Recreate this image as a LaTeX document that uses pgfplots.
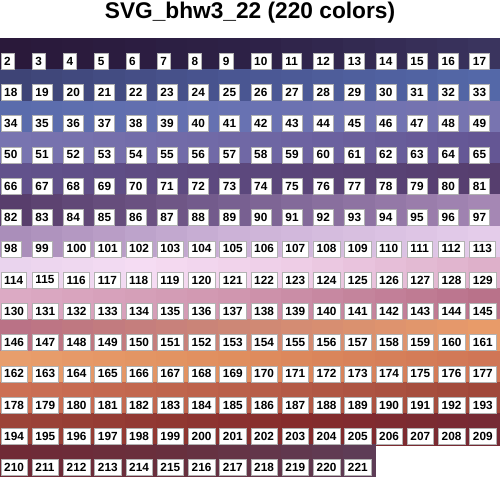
\documentclass[border=0pt]{standalone}
\usepackage{pgfplots}
\usepackage{pgfplotstable}
\usepackage{fontspec}
\setmainfont{Liberation Sans}
\pgfplotsset{compat=1.18}
\pgfplotstableread[row sep=\\]{
c r idx\\
0 0 2\\ 1 0 3\\ 2 0 4\\ 3 0 5\\ 4 0 6\\ 5 0 7\\ 6 0 8\\ 7 0 9\\ 8 0 10\\ 9 0 11\\ 10 0 12\\ 11 0 13\\ 12 0 14\\ 13 0 15\\ 14 0 16\\ 15 0 17\\
0 1 18\\ 1 1 19\\ 2 1 20\\ 3 1 21\\ 4 1 22\\ 5 1 23\\ 6 1 24\\ 7 1 25\\ 8 1 26\\ 9 1 27\\ 10 1 28\\ 11 1 29\\ 12 1 30\\ 13 1 31\\ 14 1 32\\ 15 1 33\\
0 2 34\\ 1 2 35\\ 2 2 36\\ 3 2 37\\ 4 2 38\\ 5 2 39\\ 6 2 40\\ 7 2 41\\ 8 2 42\\ 9 2 43\\ 10 2 44\\ 11 2 45\\ 12 2 46\\ 13 2 47\\ 14 2 48\\ 15 2 49\\
0 3 50\\ 1 3 51\\ 2 3 52\\ 3 3 53\\ 4 3 54\\ 5 3 55\\ 6 3 56\\ 7 3 57\\ 8 3 58\\ 9 3 59\\ 10 3 60\\ 11 3 61\\ 12 3 62\\ 13 3 63\\ 14 3 64\\ 15 3 65\\
0 4 66\\ 1 4 67\\ 2 4 68\\ 3 4 69\\ 4 4 70\\ 5 4 71\\ 6 4 72\\ 7 4 73\\ 8 4 74\\ 9 4 75\\ 10 4 76\\ 11 4 77\\ 12 4 78\\ 13 4 79\\ 14 4 80\\ 15 4 81\\
0 5 82\\ 1 5 83\\ 2 5 84\\ 3 5 85\\ 4 5 86\\ 5 5 87\\ 6 5 88\\ 7 5 89\\ 8 5 90\\ 9 5 91\\ 10 5 92\\ 11 5 93\\ 12 5 94\\ 13 5 95\\ 14 5 96\\ 15 5 97\\
0 6 98\\ 1 6 99\\ 2 6 100\\ 3 6 101\\ 4 6 102\\ 5 6 103\\ 6 6 104\\ 7 6 105\\ 8 6 106\\ 9 6 107\\ 10 6 108\\ 11 6 109\\ 12 6 110\\ 13 6 111\\ 14 6 112\\ 15 6 113\\
0 7 114\\ 1 7 115\\ 2 7 116\\ 3 7 117\\ 4 7 118\\ 5 7 119\\ 6 7 120\\ 7 7 121\\ 8 7 122\\ 9 7 123\\ 10 7 124\\ 11 7 125\\ 12 7 126\\ 13 7 127\\ 14 7 128\\ 15 7 129\\
0 8 130\\ 1 8 131\\ 2 8 132\\ 3 8 133\\ 4 8 134\\ 5 8 135\\ 6 8 136\\ 7 8 137\\ 8 8 138\\ 9 8 139\\ 10 8 140\\ 11 8 141\\ 12 8 142\\ 13 8 143\\ 14 8 144\\ 15 8 145\\
0 9 146\\ 1 9 147\\ 2 9 148\\ 3 9 149\\ 4 9 150\\ 5 9 151\\ 6 9 152\\ 7 9 153\\ 8 9 154\\ 9 9 155\\ 10 9 156\\ 11 9 157\\ 12 9 158\\ 13 9 159\\ 14 9 160\\ 15 9 161\\
0 10 162\\ 1 10 163\\ 2 10 164\\ 3 10 165\\ 4 10 166\\ 5 10 167\\ 6 10 168\\ 7 10 169\\ 8 10 170\\ 9 10 171\\ 10 10 172\\ 11 10 173\\ 12 10 174\\ 13 10 175\\ 14 10 176\\ 15 10 177\\
0 11 178\\ 1 11 179\\ 2 11 180\\ 3 11 181\\ 4 11 182\\ 5 11 183\\ 6 11 184\\ 7 11 185\\ 8 11 186\\ 9 11 187\\ 10 11 188\\ 11 11 189\\ 12 11 190\\ 13 11 191\\ 14 11 192\\ 15 11 193\\
0 12 194\\ 1 12 195\\ 2 12 196\\ 3 12 197\\ 4 12 198\\ 5 12 199\\ 6 12 200\\ 7 12 201\\ 8 12 202\\ 9 12 203\\ 10 12 204\\ 11 12 205\\ 12 12 206\\ 13 12 207\\ 14 12 208\\ 15 12 209\\
0 13 210\\ 1 13 211\\ 2 13 212\\ 3 13 213\\ 4 13 214\\ 5 13 215\\ 6 13 216\\ 7 13 217\\ 8 13 218\\ 9 13 219\\ 10 13 220\\ 11 13 221\\
}\cells
\begin{document}
\begin{tikzpicture}[x=1pt,y=1pt]
\path[use as bounding box] (0,0) rectangle (500,476);
\begin{axis}[
  at={(0,0)}, anchor=south west,
  scale only axis, width=500pt, height=437.7pt,
  hide axis, clip=false,
  xmin=-0.5, xmax=15.5, ymin=-0.5, ymax=13.5, y dir=reverse,
  colormap={bhw}{
    rgb255(2pt)=(42,25,58); rgb255(10pt)=(46,34,72); rgb255(17pt)=(58,52,94);
    rgb255(18pt)=(62,68,118); rgb255(25pt)=(74,86,146); rgb255(33pt)=(84,104,168);
    rgb255(34pt)=(90,108,172); rgb255(41pt)=(104,114,178); rgb255(49pt)=(120,116,176);
    rgb255(50pt)=(120,116,176); rgb255(57pt)=(112,104,165); rgb255(65pt)=(100,86,148);
    rgb255(66pt)=(98,82,140); rgb255(73pt)=(92,72,125); rgb255(81pt)=(86,62,110);
    rgb255(82pt)=(88,62,108); rgb255(89pt)=(120,96,145); rgb255(97pt)=(165,135,180);
    rgb255(98pt)=(170,142,186); rgb255(105pt)=(204,178,215); rgb255(113pt)=(228,204,234);
    rgb255(114pt)=(234,212,238); rgb255(118pt)=(245,220,243); rgb255(123pt)=(238,205,230); rgb255(129pt)=(222,176,202);
    rgb255(130pt)=(220,170,196); rgb255(137pt)=(208,150,175); rgb255(145pt)=(185,114,138);
    rgb255(146pt)=(186,114,134); rgb255(153pt)=(205,135,118); rgb255(161pt)=(232,155,105);
    rgb255(162pt)=(232,158,108); rgb255(169pt)=(224,142,94); rgb255(177pt)=(208,118,86);
    rgb255(178pt)=(204,112,84); rgb255(185pt)=(186,96,74); rgb255(193pt)=(160,72,58);
    rgb255(194pt)=(156,68,56); rgb255(203pt)=(134,44,44); rgb255(209pt)=(118,42,52);
    rgb255(210pt)=(112,42,54); rgb255(215pt)=(104,48,62); rgb255(221pt)=(94,60,86)
  },
  point meta min=2, point meta max=221,
]
\addplot[scatter, only marks, mark=square*, mark size=15.7pt,
  scatter/use mapped color={draw=mapped color, fill=mapped color},
  point meta=explicit
] table[x=c, y=r, meta=idx] {\cells};
\addplot[only marks, mark=none, point meta=explicit symbolic,
  nodes near coords,
  every node near coord/.append style={anchor=south west, xshift=-15.0pt, yshift=-15.4pt,
    fill=white, draw=black!30, line width=0.4pt, inner xsep=3.4pt, inner ysep=2.6pt,
    font=\fontsize{11.8}{13}\selectfont\bfseries, text=black, minimum height=16pt}
] table[x=c, y=r, meta=idx] {\cells};
\end{axis}
\node[anchor=base, font=\fontsize{22.7}{26}\selectfont\bfseries] at (250,457.5) {SVG\_bhw3\_22 (220 colors)};
\end{tikzpicture}
\end{document}
